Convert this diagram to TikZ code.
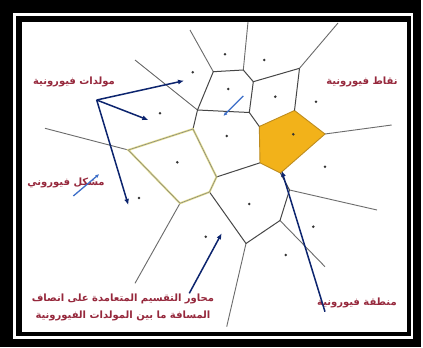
\documentclass[tikz,border=0pt]{standalone}
\usepackage{fontspec}
\TeXXeTstate=1
\newfontfamily\arabicfont[Script=Arabic]{DejaVu Sans}
\usetikzlibrary{arrows.meta}
\definecolor{navy}{RGB}{12,36,110}
\definecolor{lblue}{RGB}{60,110,200}
\definecolor{orng}{RGB}{242,178,26}
\definecolor{orngb}{RGB}{190,140,30}
\definecolor{ylw}{RGB}{228,222,140}
\definecolor{lbl}{RGB}{150,40,60}
\definecolor{edge}{RGB}{70,70,70}
\tikzset{
  vedge/.style={draw=edge,line width=1pt},
  vray/.style={draw=edge!80,line width=0.9pt},
  yedge/.style={draw=ylw,line width=2pt},
  site/.style={circle,fill=black!80,inner sep=0pt,minimum size=2.8pt},
  navarrow/.style={draw=navy,line width=1.5pt,-{Latex[length=6pt,width=5pt]}},
  lbarrow/.style={draw=lblue,line width=1.3pt,-{Latex[length=4pt,width=3.5pt]}},
  lab/.style={text=lbl,font=\arabicfont\bfseries\fontsize{10}{12}\selectfont,inner sep=0pt}
}
\begin{document}
\begin{tikzpicture}[x=1pt,y=-1pt]
\useasboundingbox (0,0) rectangle (423,348);
% frame
\fill[black] (0,0) rectangle (421,347);
\fill[white] (13,13) rectangle (412.7,339);
\fill[black] (16,16) rectangle (410.7,335.7);
\fill[white] (21.5,21.5) rectangle (406.7,331.7);
% vertices
\coordinate (A) at (197.5,110);
\coordinate (B) at (213.3,71.7);
\coordinate (C) at (243.3,70);
\coordinate (D) at (253.3,81.7);
\coordinate (E) at (299.5,68.3);
\coordinate (F) at (249.3,112.5);
\coordinate (G) at (193,129);
\coordinate (H) at (128.3,150);
\coordinate (I) at (180,203.3);
\coordinate (J) at (209.5,192);
\coordinate (K) at (216.5,177);
\coordinate (L) at (259.3,126.5);
\coordinate (M) at (294.5,110.5);
\coordinate (N) at (325,134);
\coordinate (O) at (280.5,173);
\coordinate (P) at (260,162.8);
\coordinate (Q) at (289.5,190);
\coordinate (R) at (280,220.5);
\coordinate (S) at (246,243.5);
% ray ends
\coordinate (rB) at (190,30);
\coordinate (rC) at (248,22);
\coordinate (rE) at (338,23);
\coordinate (rA) at (135,60);
\coordinate (rH) at (45,128.3);
\coordinate (rI) at (135,283.3);
\coordinate (rS) at (226.7,326.7);
\coordinate (rR) at (325,266.7);
\coordinate (rQ) at (377,210);
\coordinate (rN) at (391.7,125);
% orange cell
\fill[orng] (L) -- (M) -- (N) -- (O) -- (P) -- cycle;
\draw[draw=orngb,line width=0.9pt] (L) -- (M) -- (N) -- (O) -- (P) -- cycle;
% rays
\draw[vray] (B) -- (rB);
\draw[vray] (C) -- (rC);
\draw[vray] (E) -- (rE);
\draw[vray] (A) -- (rA);
\draw[vray] (H) -- (rH);
\draw[vray] (I) -- (rI);
\draw[vray] (S) -- (rS);
\draw[vray] (R) -- (rR);
\draw[vray] (Q) -- (rQ);
\draw[vray] (N) -- (rN);
% inner edges
\draw[vedge] (A) -- (B) -- (C) -- (D) -- (E);
\draw[vedge] (D) -- (F) -- (A);
\draw[vedge] (E) -- (M);
\draw[vedge] (F) -- (L);
\draw[vedge] (A) -- (G);
\draw[vedge] (K) -- (P);
\draw[vedge] (O) -- (Q) -- (R) -- (S) -- (J);
% yellow cell
\draw[yedge] (H) -- (G) -- (K) -- (J) -- (I) -- cycle;
\draw[draw=edge!70,line width=0.5pt] (H) -- (G) -- (K) -- (J) -- (I) -- cycle;
% sites
\foreach \n/\p in {s1/{(225,54.3)},s2/{(264.3,60)},s3/{(192.7,72.3)},s4/{(228.3,89)},
  s5/{(275.3,96.7)},s6/{(316,101.7)},s7/{(160,113.3)},s8/{(226.7,136)},
  s9/{(293.3,134.3)},s10/{(177.3,162.3)},s11/{(325,166.7)},s12/{(139,198)},
  s13/{(249.3,204)},s14/{(313.3,226.7)},s15/{(205.7,236.7)},s16/{(285.7,255)}}
  \node[site] (\n) at \p {};
% labels
\node[lab] (t1) at (74,82) {\beginR مولدات فيورونية\endR};
\node[lab] (t2) at (362,82) {\beginR نقاط فيورونية\endR};
\node[lab] (t3) at (66,183) {\beginR مشكل فيوروني\endR};
\node[lab] (t4) at (357,303) {\beginR منطقة فيورونية\endR};
\node[lab] (t5) at (123,299) {\beginR محاور التقسيم المتعامدة على انصاف\endR};
\node[lab] (t6) at (123,316) {\beginR المسافة ما بين المولدات الفيورونية\endR};
% arrows
\coordinate (hub) at (96.7,100);
\coordinate (a1) at (184,80.7);
\coordinate (a2) at (148.3,120);
\coordinate (a3) at (128.3,205);
\draw[navarrow] (hub) -- (a1);
\draw[navarrow] (hub) -- (a2);
\draw[navarrow] (hub) -- (a3);
\coordinate (b1s) at (189.3,293.3);
\coordinate (b1e) at (221.7,233.3);
\draw[navarrow] (b1s) -- (b1e);
\coordinate (b2s) at (325,311.7);
\coordinate (b2e) at (281.7,170.7);
\draw[navarrow] (b2s) -- (b2e);
\coordinate (c1s) at (243.3,96);
\coordinate (c1e) at (223.3,116);
\draw[lbarrow] (c1s) -- (c1e);
\coordinate (c2s) at (73.3,196);
\coordinate (c2e) at (99.3,174);
\draw[lbarrow] (c2s) -- (c2e);
\end{tikzpicture}
\end{document}
